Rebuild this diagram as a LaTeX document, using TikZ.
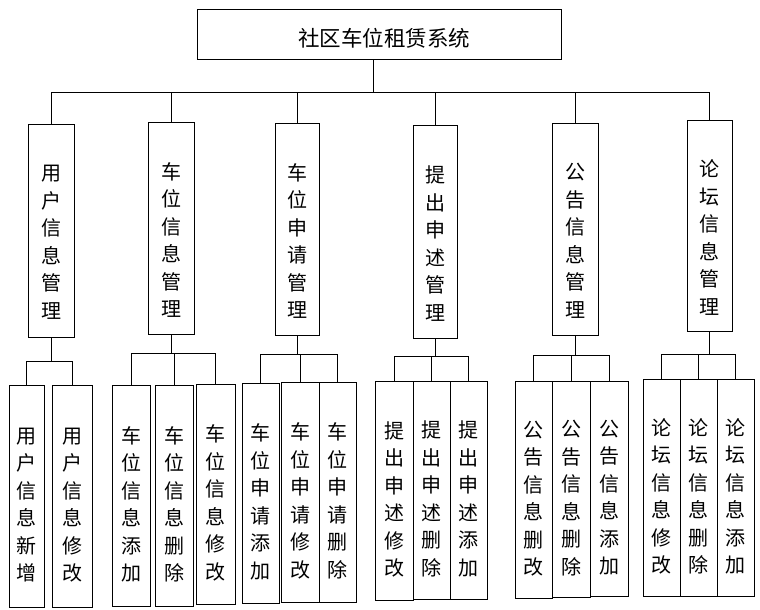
\documentclass[tikz,border=0pt]{standalone}
\usepackage{fontspec}
\newfontfamily\zh{Noto Sans CJK SC}
\usetikzlibrary{positioning}

\tikzset{
  box/.style={draw, line width=1pt, inner sep=0pt},
  vtext/.style={font=\zh\fontsize{20}{27.5}\selectfont, align=center, inner sep=0pt},
  link/.style={line width=1pt},
}

\begin{document}
\begin{tikzpicture}[x=1pt, y=-1pt]
    \useasboundingbox (0,0) rectangle (760,610);

    % system box
    \node[box, minimum width=364pt, minimum height=50pt] (sys) at (379,35) {};
    \node[font=\zh\fontsize{21.5}{25}\selectfont, inner sep=0pt] (systext) at ([xshift=5pt,yshift=-3pt]sys.center) {社区车位租赁系统};

    % modules
    \foreach \n/\x/\y/\w/\h/\t in {
        1/51/230.5/46/213/{用\\户\\信\\息\\管\\理},
        2/171/228/46/212/{车\\位\\信\\息\\管\\理},
        3/297/229/44/212/{车\\位\\申\\请\\管\\理},
        4/435/231.5/44/213/{提\\出\\申\\述\\管\\理},
        5/575/229/46/212/{公\\告\\信\\息\\管\\理},
        6/709.5/225.5/45/211/{论\\坛\\信\\息\\管\\理}} {
        \node[box, minimum width=\w pt, minimum height=\h pt] (m\n) at (\x,\y) {};
        \node[vtext] (tm\n) at ([yshift=-12pt]m\n.center) {\t};
    }

    % functions
    \foreach \n/\x/\y/\w/\h/\t in {
        l11/26.5/496/35/222/{用\\户\\信\\息\\新\\增},
        l12/72/496/40/222/{用\\户\\信\\息\\修\\改},
        l21/131/495.5/38/221/{车\\位\\信\\息\\添\\加},
        l22/174/495.5/38/221/{车\\位\\信\\息\\删\\除},
        l23/215.5/494/39/220/{车\\位\\信\\息\\修\\改},
        l31/260.5/493/37/220/{车\\位\\申\\请\\添\\加},
        l32/300/492/38/220/{车\\位\\申\\请\\修\\改},
        l33/337.5/492/37/220/{车\\位\\申\\请\\删\\除},
        l41/394/490.5/38/219/{提\\出\\申\\述\\修\\改},
        l42/431.5/490/37/218/{提\\出\\申\\述\\删\\除},
        l43/468.5/490/37/218/{提\\出\\申\\述\\添\\加},
        l51/533.5/489.5/37/217/{公\\告\\信\\息\\删\\改},
        l52/571/489/38/216/{公\\告\\信\\息\\删\\除},
        l53/609/488.5/38/215/{公\\告\\信\\息\\添\\加},
        l61/661.5/487.5/37/217/{论\\坛\\信\\息\\修\\改},
        l62/698.5/487.5/37/217/{论\\坛\\信\\息\\删\\除},
        l63/735.5/487.5/37/217/{论\\坛\\信\\息\\添\\加}} {
        \node[box, minimum width=\w pt, minimum height=\h pt] (\n) at (\x,\y) {};
        \node[vtext] (t\n) at ([yshift=-9pt]\n.center) {\t};
    }

    % top level links
    \coordinate (bus) at (0,92);
    \coordinate (drop) at ([xshift=-6pt]sys.south);
    \draw[link] (drop) -- (drop |- bus);
    \draw[link] (m1.north |- bus) -- (m6.north |- bus);
    \foreach \n in {1,...,6}
        \draw[link] (m\n.north |- bus) -- (m\n.north);

    % second level links
    \foreach \g/\by/\a/\b in {1/361/l11/l12, 2/353/l21/l23, 3/354/l31/l33,
                              4/356/l41/l43, 5/355/l51/l53, 6/354/l61/l63} {
        \coordinate (b\g) at (0,\by);
        \draw[link] (m\g.south) -- (m\g.south |- b\g);
        \draw[link] (\a.north |- b\g) -- (\b.north |- b\g);
    }
    \foreach \g/\k in {1/1,1/2,2/1,2/2,2/3,3/1,3/2,3/3,4/1,4/2,4/3,5/1,5/2,5/3,6/1,6/2,6/3}
        \draw[link] (l\g\k.north |- b\g) -- (l\g\k.north);
\end{tikzpicture}
\end{document}
